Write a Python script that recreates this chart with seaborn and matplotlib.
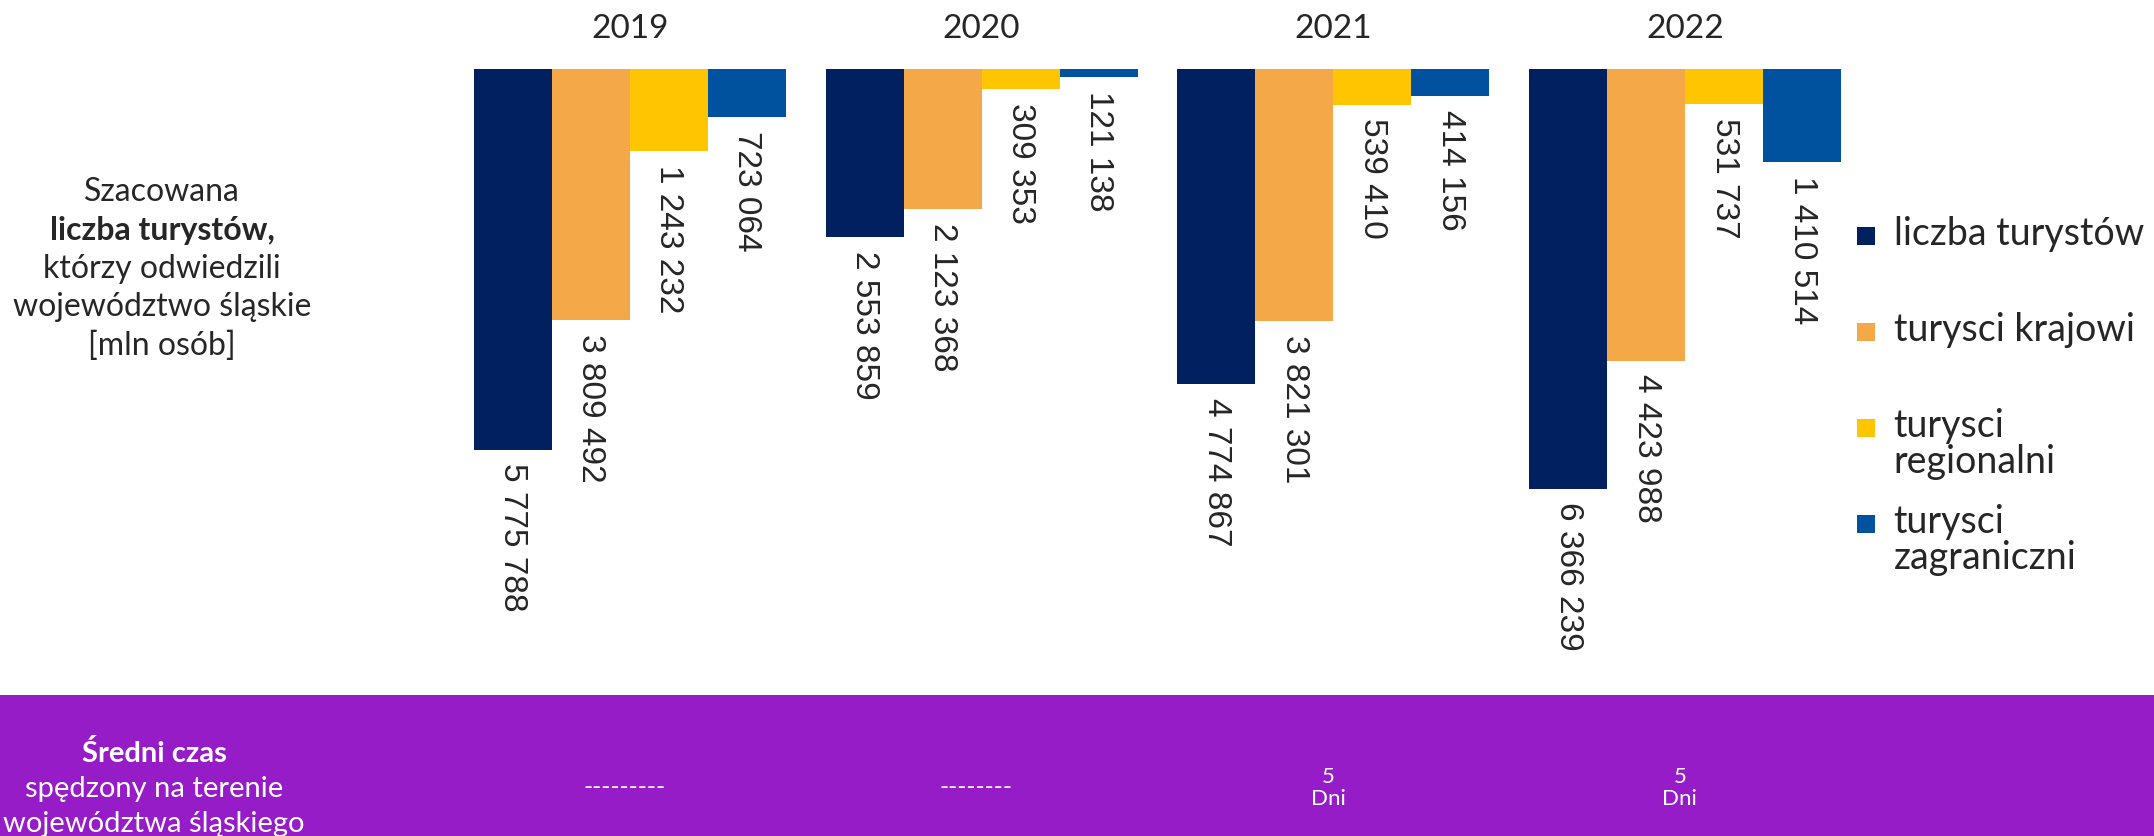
# import toolbox
import pandas as pd
import numpy as np
import seaborn as sns
import matplotlib.pyplot as plt
from matplotlib.patches import Rectangle
from matplotlib.legend_handler import HandlerPatch
from matplotlib.transforms import blended_transform_factory

# data
lata = ["2019", "2020", "2021", "2022"]
kategorie = ["liczba turystów", "turysci krajowi", "turysci regionalni", "turysci zagraniczni"]
liczba_turystow = [5775788, 2553859, 4774867, 6366239]
turysci_krajowi = [3809492, 2123368, 3821301, 4423988]
turysci_regionalni = [1243232, 309353, 539410, 531737]
turysci_zagraniczni = [723064, 121138, 414156, 1410514]
sredni_czas = ["---------", "--------", "5\nDni", "5\nDni"]
legenda = ["liczba turystów\n", "turysci krajowi\n", "turysci\nregionalni", "turysci\nzagraniczni"]
opis_gora = [("Szacowana", "normal"), ("liczba turystów,", "bold"), ("którzy odwiedzili", "normal"),
             ("województwo śląskie", "normal"), ("[mln osób]", "normal")]
opis_dol = [("Średni czas", "bold"), ("spędzony na terenie", "normal"), ("województwa śląskiego", "normal")]
kolory = ["#002060", "#F5A847", "#FFC600", "#00519E"]
fiolet = "#961CC8"

serie = [liczba_turystow, turysci_krajowi, turysci_regionalni, turysci_zagraniczni]
db = pd.DataFrame([(rok, kat, s[i]) for kat, s in zip(kategorie, serie) for i, rok in enumerate(lata)],
                  columns=["rok", "kategoria", "liczba"])

#%% figure
sns.set_style("white")
plt.rcParams["font.family"] = ["Lato", "DejaVu Sans"]
W, H = 2154, 836
f = plt.figure(figsize=(W / 100, H / 100), dpi=100)
ax = f.add_axes([454 / W, 141 / H, 1407 / W, 626 / H])

sns.barplot(data=db, x="rok", y="liczba", hue="kategoria", order=lata, hue_order=kategorie,
            palette=kolory, saturation=1, width=0.887, errorbar=None, linewidth=0, ax=ax)
ax.set_xlim(-0.5, 3.5)
ax.set_ylim(9.5e6, 0)

# value labels
for cont in ax.containers:
    ax.bar_label(cont, labels=[f"{v:,.0f}".replace(",", " ") for v in cont.datavalues],
                 rotation=270, padding=10, fontsize=24, fontfamily="Liberation Sans")

# formatting
ax.xaxis.tick_top()
ax.tick_params(axis="x", length=0, pad=18, labelsize=24)
ax.set_xlabel("")
ax.set_ylabel("")
ax.set_yticks([])
sns.despine(ax=ax, left=True, bottom=True, top=True, right=True)

# legend with square next to first line
handles, _ = ax.get_legend_handles_labels()
ax.get_legend().remove()


def kwadrat(legend, orig_handle, xdescent, ydescent, width, height, fontsize):
    return Rectangle((-xdescent, -ydescent + 0.5 * fontsize), width, width)


leg = f.legend(handles, legenda, handler_map={h: HandlerPatch(patch_func=kwadrat) for h in handles},
               loc="upper left", bbox_to_anchor=(1857 / W, 0.742), frameon=False, fontsize=27,
               handlelength=0.48, handleheight=0.48, handletextpad=0.5, labelspacing=0.64,
               borderpad=0, borderaxespad=0)
for t in leg.get_texts():
    t.set_linespacing(1.0)

# left description
y0 = 192
for i, (txt, w) in enumerate(opis_gora):
    f.text(162 / W, 1 - (y0 + i * 38.5) / H, txt, ha="center", va="center", fontsize=23, fontweight=w)

# purple band
f.add_artist(Rectangle((0, 0), 1, 141 / H, transform=f.transFigure, facecolor=fiolet,
                       edgecolor="none", zorder=-1))
for i, (txt, w) in enumerate(opis_dol):
    f.text(154 / W, 1 - (754 + i * 35) / H, txt, ha="center", va="center", fontsize=21,
           fontweight=w, color="white")
tr = blended_transform_factory(ax.transData, f.transFigure)
for i, txt in enumerate(sredni_czas):
    ax.text(i - 0.015, 1 - 788 / H, txt, transform=tr, ha="center", va="center",
            fontsize=18 if "-" in txt else 16, color="white", linespacing=1.15)

# save figure
plt.savefig("out.png", format="png")
